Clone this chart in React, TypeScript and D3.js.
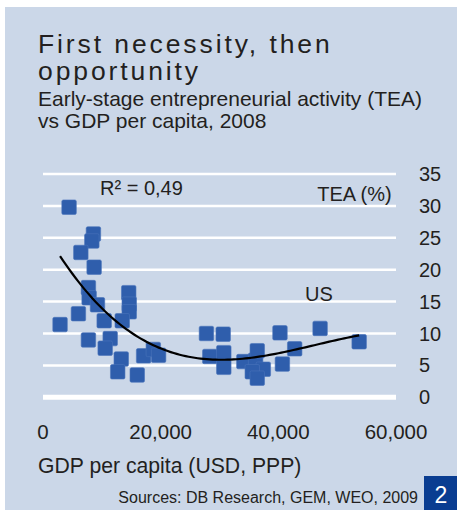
import React from "react";
import * as d3 from "d3";

// GDP per capita (USD, PPP) and TEA (%) per country, 2008
const gdpValues = [
  4430, 8570, 8300, 6430, 8690, 7720, 7840, 9260, 6020, 2900,
  10400, 14570, 14660, 14660, 13470, 7720, 11420, 10570, 13300, 12700,
  16020, 17100, 18750, 19650, 27780, 30630, 28350, 30730, 30730, 34140,
  36140, 37450, 35570, 36420, 36420, 40280, 40690, 42780, 47100, 53740,
];
const teaValues = [
  29.8, 25.6, 24.5, 22.7, 20.4, 17.2, 15.6, 14.5, 13.1, 11.4,
  12.0, 16.4, 14.6, 13.4, 12.0, 9.0, 9.2, 7.7, 6.0, 4.0,
  3.5, 6.5, 7.5, 6.6, 10.0, 9.9, 6.4, 7.0, 4.7, 5.6,
  5.8, 4.4, 4.0, 3.0, 7.3, 10.1, 5.2, 7.6, 10.8, 8.7,
];
const xTicks = [0, 20000, 40000, 60000];
const yTicks = [0, 5, 10, 15, 20, 25, 30, 35];
const titleLines = ["First necessity, then", "opportunity"];
const subtitleLines = ["Early-stage entrepreneurial activity (TEA)", "vs GDP per capita, 2008"];
const r2Label = "R\u00b2 = 0,49";
const yAxisTitle = "TEA (%)";
const xAxisTitle = "GDP per capita (USD, PPP)";
const usLabel = "US";
const sourceText = "Sources: DB Research, GEM, WEO, 2009";
const chartNumber = "2";

function cubicFit(xs: number[], ys: number[]): number[] {
  const n = 4;
  const A: number[][] = Array.from({ length: n }, () => new Array(n + 1).fill(0));
  xs.forEach((x, k) => {
    const u = x / 10000;
    for (let i = 0; i < n; i++) {
      for (let j = 0; j < n; j++) A[i][j] += Math.pow(u, i + j);
      A[i][n] += Math.pow(u, i) * ys[k];
    }
  });
  for (let c = 0; c < n; c++) {
    let p = c;
    for (let r = c + 1; r < n; r++) if (Math.abs(A[r][c]) > Math.abs(A[p][c])) p = r;
    [A[c], A[p]] = [A[p], A[c]];
    for (let r = 0; r < n; r++) {
      if (r === c) continue;
      const f = A[r][c] / A[c][c];
      for (let k = c; k <= n; k++) A[r][k] -= f * A[c][k];
    }
  }
  return A.map((row, i) => row[n] / row[i]);
}

export default function App() {
  const W = 457, H = 510;
  const x = d3.scaleLinear().domain([0, 60000]).range([43, 396]);
  const y = d3.scaleLinear().domain([0, 35]).range([397.3, 174]);
  const coef = cubicFit(gdpValues, teaValues);
  const f = (g: number) => {
    const u = g / 10000;
    return coef[0] + coef[1] * u + coef[2] * u * u + coef[3] * u * u * u;
  };
  const [gMin, gMax] = d3.extent(gdpValues) as [number, number];
  const trendPts = d3.range(0, 101).map((i) => gMin + ((gMax - gMin) * i) / 100);
  const line = d3.line<number>().x((g) => x(g)).y((g) => y(f(g))).curve(d3.curveLinear);
  const font = "'Liberation Sans', Arial, Helvetica, sans-serif";
  const textColor = "#231f20";
  const ms = 14.5;

  return (
    <svg width={W} height={H} style={{ position: "absolute", left: 0, top: 0 }} fontFamily={font}>
      <rect x={0} y={0} width={W} height={H} fill="#ffffff" />
      <rect x={5} y={7} width={W - 5} height={H - 7} fill="#cbd7e8" />
      {titleLines.map((t, i) => (
        <text key={t} x={38} y={53 + i * 27} fontSize={26.5} letterSpacing={2.9} fill={textColor}>{t}</text>
      ))}
      {subtitleLines.map((t, i) => (
        <text key={t} x={38} y={106 + i * 22} fontSize={21} fill={textColor}>{t}</text>
      ))}
      {yTicks.map((t) => (
        <line key={t} x1={x(0)} x2={x(60000)} y1={y(t)} y2={y(t)} stroke="#ffffff" strokeWidth={t === 0 ? 5 : 2.5} />
      ))}
      {yTicks.map((t) => (
        <text key={"yl" + t} x={419} y={y(t) + 7} fontSize={20} fill={textColor}>{t}</text>
      ))}
      {xTicks.map((t) => (
        <text key={"xl" + t} x={x(t)} y={439} fontSize={20.5} textAnchor="middle" fill={textColor}>{d3.format(",")(t)}</text>
      ))}
      {gdpValues.map((g, i) => (
        <rect key={i} x={x(g) - ms / 2} y={y(teaValues[i]) - ms / 2} width={ms} height={ms} rx={1.5}
          fill="#2f5eac" stroke="#4a74ba" strokeWidth={0.6} />
      ))}
      <path d={line(trendPts) || ""} fill="none" stroke="#000000" strokeWidth={2.2} />
      <text x={100} y={195} fontSize={20} fill={textColor}>{r2Label}</text>
      <text x={391.7} y={200.7} fontSize={20} textAnchor="end" fill={textColor}>{yAxisTitle}</text>
      <text x={305} y={300.7} fontSize={20} fill={textColor}>{usLabel}</text>
      <text x={38} y={473} fontSize={21.2} fill={textColor}>{xAxisTitle}</text>
      <text x={418} y={502.5} fontSize={16} textAnchor="end" fill={textColor}>{sourceText}</text>
      <rect x={424} y={476} width={W - 424} height={H - 476} fill="#0a3d91" />
      <text x={441} y={503} fontSize={23} textAnchor="middle" fill="#ffffff">{chartNumber}</text>
    </svg>
  );
}
